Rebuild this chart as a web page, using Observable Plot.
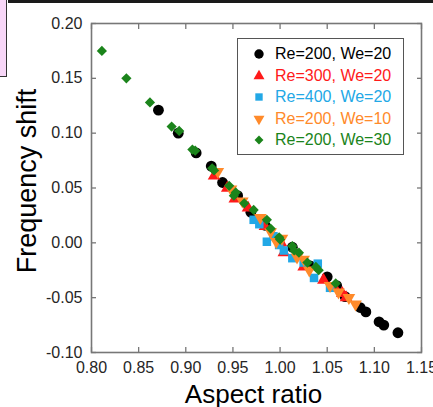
<!DOCTYPE html>
<html><head><meta charset="utf-8">
<script src="https://cdn.jsdelivr.net/npm/d3@7"></script>
<script src="https://cdn.jsdelivr.net/npm/@observablehq/plot@0.6"></script>
<style>
html,body{margin:0;padding:0;background:#fff;}
#wrap{position:relative;width:433px;height:407px;overflow:hidden;font-family:"Liberation Sans",Arial,sans-serif;}
#pink{position:absolute;left:0;top:0;width:6px;height:76px;background:#f7d6f7;border-right:1.5px solid #333;border-bottom:1.5px solid #333;}
#topbar{position:absolute;left:8px;top:0;width:425px;height:3px;background:#1a1a1a;}
#legend{position:absolute;left:237px;top:38px;width:165px;height:115px;border:1.5px solid #555;background:#fff;}
.row{position:absolute;left:0;height:20px;display:flex;align-items:center;font-size:16px;white-space:nowrap;}
.row svg{margin-left:14px;margin-right:9px;}
</style></head>
<body><div id="wrap"><div id="chart"></div><div id="pink"></div><div id="topbar"></div><div id="legend"></div></div>
<script>
// Series labels, colours and symbols
const seriesNames = ["Re=200, We=20", "Re=300, We=20", "Re=400, We=20", "Re=200, We=10", "Re=200, We=30"];
const seriesColors = ["#000000", "#ff1a1a", "#22a8e6", "#ff8a2a", "#1b841b"];
const seriesSymbols = ["circle", "triangle", "square", "triangle", "diamond2"];
const seriesRotate = [0, 0, 0, 180, 0];
const seriesR = [5.4, 4.7, 4.8, 4.7, 4.6];

// Re=200, We=20 (black circles)
const x1 = [0.871, 0.892, 0.911, 0.927, 0.939, 0.955, 0.969, 0.984, 0.999, 1.013, 1.032, 1.050, 1.060, 1.069, 1.085, 1.091, 1.105, 1.110, 1.125];
const y1 = [0.121, 0.100, 0.082, 0.070, 0.055, 0.043, 0.028, 0.016, 0.003, -0.004, -0.021, -0.031, -0.039, -0.049, -0.059, -0.063, -0.072, -0.075, -0.082];
// Re=300, We=20 (red triangles)
const x2 = [0.930, 0.944, 0.952, 0.966, 0.984, 1.001, 1.004, 1.025, 1.046, 1.058, 1.066, 1.070];
const y2 = [0.061, 0.050, 0.040, 0.032, 0.015, 0.000, -0.009, -0.022, -0.034, -0.041, -0.046, -0.050];
// Re=400, We=20 (blue squares)
const x3 = [0.972, 0.978, 0.986, 0.993, 0.999, 1.004, 1.013, 1.025, 1.036, 1.040, 1.053];
const y3 = [0.021, 0.017, 0.001, 0.006, -0.002, -0.007, -0.014, -0.018, -0.032, -0.019, -0.041];
// Re=200, We=10 (orange down-triangles)
const x4 = [0.934, 0.948, 0.960, 0.979, 0.990, 0.996, 1.002, 1.018, 1.025, 1.031, 1.053, 1.062, 1.073, 1.080];
const y4 = [0.065, 0.049, 0.038, 0.023, 0.010, 0.001, 0.004, -0.013, -0.015, -0.025, -0.039, -0.045, -0.050, -0.056];
// Re=200, We=30 (green diamonds)
const x5 = [0.811, 0.837, 0.862, 0.885, 0.893, 0.907, 0.910, 0.928, 0.930, 0.946, 0.951, 0.953, 0.962, 0.972, 0.986, 0.990, 0.999, 1.000, 1.013, 1.015, 1.020, 1.029, 1.038, 1.041, 1.059];
const y5 = [0.175, 0.150, 0.128, 0.106, 0.102, 0.085, 0.084, 0.068, 0.066, 0.052, 0.043, 0.046, 0.036, 0.030, 0.021, 0.013, 0.005, 0.003, -0.003, -0.007, -0.009, -0.018, -0.022, -0.025, -0.037];

const xTicks = [0.80, 0.85, 0.90, 0.95, 1.00, 1.05, 1.10, 1.15];
const yTicks = [-0.10, -0.05, 0.00, 0.05, 0.10, 0.15, 0.20];
const xTitle = "Aspect ratio";
const yTitle = "Frequency shift";

const xs = [x1, x2, x3, x4, x5];
const ys = [y1, y2, y3, y4, y5];
const fmt = d => d.toFixed(2);
const axisColor = "#777";
const textColor = "#262626";

const dotMarks = xs.map((xv, i) => Plot.dot(xv.map((x, j) => ({x, y: ys[i][j]})), {
  x: "x", y: "y", fill: seriesColors[i], symbol: seriesSymbols[i], r: seriesR[i], rotate: seriesRotate[i]
}));

const chart = Plot.plot({
  width: 433, height: 407,
  marginLeft: 91, marginRight: 12, marginTop: 23, marginBottom: 55,
  style: {fontFamily: "'Liberation Sans', Arial, sans-serif", fontSize: "16px", background: "white", color: textColor},
  x: {domain: [0.80, 1.15]},
  y: {domain: [-0.10, 0.20]},
  marks: [
    Plot.axisX(xTicks, {anchor: "bottom", tickSize: -5, tickPadding: 14, tickFormat: fmt, label: null, stroke: axisColor, fill: textColor, strokeWidth: 1.3}),
    Plot.axisX(xTicks, {anchor: "top", tickSize: -5, tickFormat: () => "", label: null, stroke: axisColor, strokeWidth: 1.3}),
    Plot.axisY(yTicks, {anchor: "left", tickSize: -5, tickPadding: 14, tickFormat: fmt, label: null, stroke: axisColor, fill: textColor, strokeWidth: 1.3}),
    Plot.axisY(yTicks, {anchor: "right", tickSize: -5, tickFormat: () => "", label: null, stroke: axisColor, strokeWidth: 1.3}),
    Plot.frame({stroke: axisColor, strokeWidth: 1.6}),
    ...dotMarks,
    Plot.text([xTitle], {frameAnchor: "bottom", dy: 50, dx: -3, text: d => d, fontSize: 26, fill: "#000"}),
    Plot.text([yTitle], {frameAnchor: "left", dx: -64, dy: -7, rotate: -90, textAnchor: "middle", lineAnchor: "middle", text: d => d, fontSize: 27, fill: "#000"})
  ]
});
document.getElementById("chart").appendChild(chart);

// Legend
const legend = d3.select("#legend");
seriesNames.forEach((name, i) => {
  const row = legend.append("div").attr("class", "row").style("top", (5 + i * 21.5) + "px").style("color", seriesColors[i]);
  const svg = row.append("svg").attr("width", 14).attr("height", 14);
  const area = Math.PI * seriesR[i] * seriesR[i] * 0.75;
  const sym = {circle: d3.symbolCircle, triangle: d3.symbolTriangle, square: d3.symbolSquare, diamond2: d3.symbolDiamond2}[seriesSymbols[i]];
  svg.append("path").attr("d", d3.symbol(sym, area)()).attr("fill", seriesColors[i])
    .attr("transform", `translate(7,7) rotate(${seriesRotate[i]})`);
  row.append("span").text(name);
});
</script></body></html>
